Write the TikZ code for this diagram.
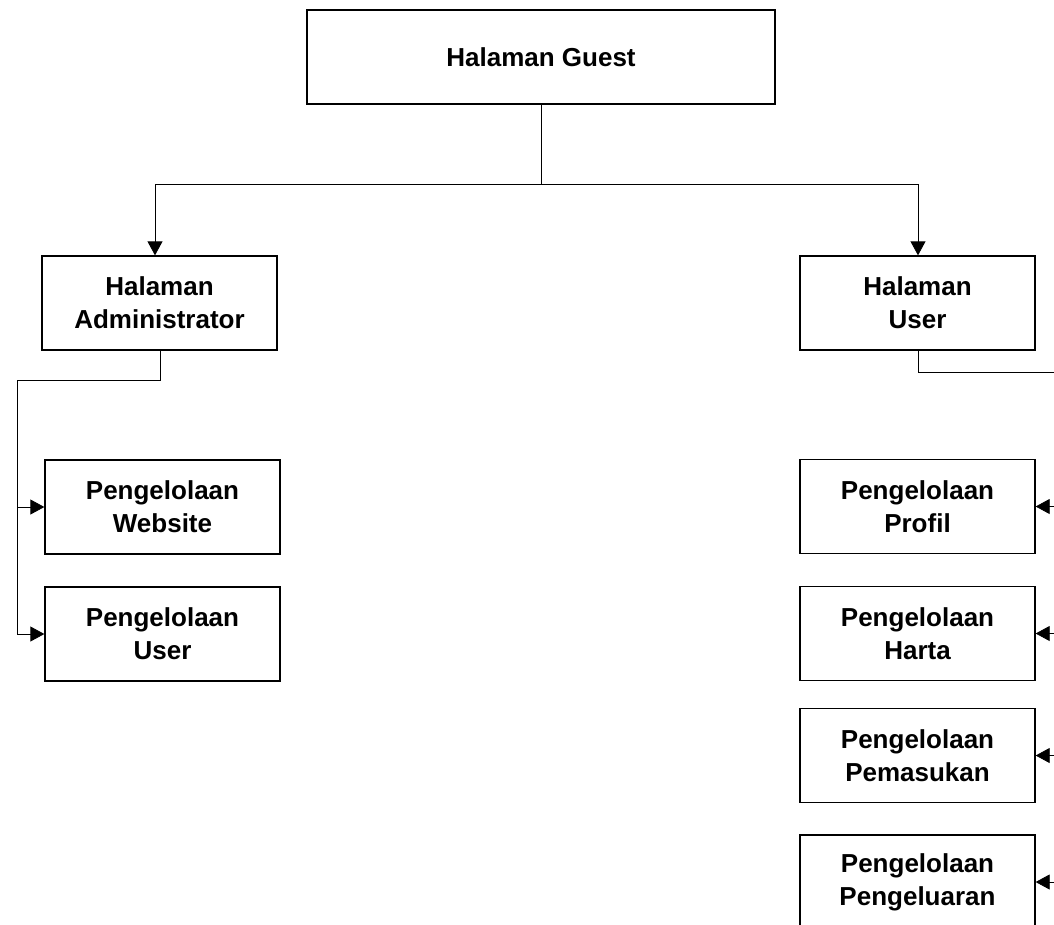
\documentclass[tikz,border=0pt]{standalone}
\usepackage{fontspec}
\setmainfont{Liberation Sans}
\usetikzlibrary{arrows.meta}

\tikzset{
  pagebox/.style={draw, line width=1.3pt, minimum width=235pt, minimum height=94pt,
    align=center, inner sep=2pt, font=\bfseries\fontsize{26}{33}\selectfont},
  link/.style={line width=0.8pt},
  linkarrow/.style={link, -{Triangle[length=14pt,width=15pt]}}
}

\begin{document}
\begin{tikzpicture}[x=1pt,y=-1pt]
\clip (0,0) rectangle (1054,924);
% pages
\node[pagebox, minimum width=468pt] (guest) at (541,57) {Halaman Guest};
\node[pagebox] (admin) at (159.5,303) {Halaman\\Administrator};
\node[pagebox] (user) at (917.5,303) {Halaman\\User};
\node[pagebox] (web) at (162.5,507) {Pengelolaan\\Website};
\node[pagebox] (aduser) at (162.5,634) {Pengelolaan\\User};
\node[pagebox] (profil) at (917.5,506.5) {Pengelolaan\\Profil};
\node[pagebox] (harta) at (917.5,633.5) {Pengelolaan\\Harta};
\node[pagebox] (masuk) at (917.5,755.5) {Pengelolaan\\Pemasukan};
\node[pagebox] (keluar) at (917.5,882) {Pengelolaan\\Pengeluaran};
% guest to admin and user
\coordinate (split) at (541,184);
\coordinate (toadmin) at (155,184);
\coordinate (touser) at (918,184);
\draw[link] (guest.south) -- (split);
\draw[link] (toadmin) -- (touser);
\draw[linkarrow] (toadmin) -- (toadmin |- admin.north);
\draw[linkarrow] (touser) -- (touser |- user.north);
% admin menu
\coordinate (adbus) at (17,380);
\draw[link] (admin.south -| 160,0) |- (adbus) -- (17,634);
\draw[linkarrow] (adbus |- web.west) -- (web.west);
\draw[linkarrow] (adbus |- aduser.west) -- (aduser.west);
% user menu
\coordinate (usbus) at (1062,372);
\draw[link] (user.south -| 918,0) |- (usbus) -- (1062,882);
\foreach \m in {profil,harta,masuk,keluar}
  \draw[linkarrow] (usbus |- \m.east) -- (\m.east);
\end{tikzpicture}
\end{document}
